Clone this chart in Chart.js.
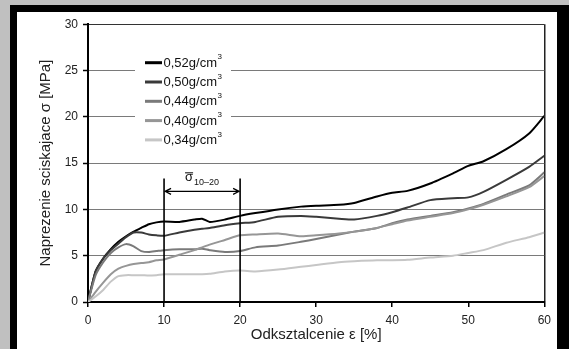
<!DOCTYPE html>
<html>
<head>
<meta charset="utf-8">
<script src="https://cdn.jsdelivr.net/npm/chart.js@4/dist/chart.umd.min.js"></script>
<style>
  body { margin: 0; background: #c0c0c0; width: 569px; height: 349px; overflow: hidden; position: relative; }
  #frame { position: absolute; left: 10px; top: 5px; width: 559px; height: 344px; background: #000; }
  #paper { position: absolute; left: 17px; top: 12px; width: 540px; height: 337px; background: #fff; }
  canvas { display: block; }
</style>
</head>
<body>
<div id="frame"></div>
<div id="paper"><canvas id="chart" width="540" height="337"></canvas></div>
<script>
// strain [%] shared by all curves
const strain = [0, 1, 2, 3, 4, 5, 6, 7, 8, 9, 10, 12, 14, 15, 16, 18, 20, 22, 25, 28, 30, 33, 35, 38, 40, 42, 45, 48, 50, 52, 55, 58, 60];

// stress [MPa] for each density
const s052 = [0, 3.3, 4.7, 5.7, 6.5, 7.1, 7.6, 8.0, 8.4, 8.6, 8.7, 8.65, 8.9, 9.0, 8.65, 8.9, 9.3, 9.6, 10.0, 10.3, 10.4, 10.5, 10.7, 11.4, 11.8, 12.0, 12.8, 13.9, 14.7, 15.2, 16.5, 18.2, 20.1];
const s050 = [0, 3.3, 4.7, 5.6, 6.3, 7.0, 7.5, 7.5, 7.3, 7.2, 7.15, 7.5, 7.8, 7.9, 8.0, 8.3, 8.5, 8.65, 9.2, 9.3, 9.2, 9.0, 8.9, 9.3, 9.7, 10.2, 11.0, 11.2, 11.3, 11.9, 13.2, 14.6, 15.8];
const s044 = [0, 2.9, 4.3, 5.3, 5.9, 6.25, 6.0, 5.5, 5.4, 5.5, 5.6, 5.7, 5.7, 5.75, 5.6, 5.4, 5.5, 5.9, 6.1, 6.5, 6.8, 7.3, 7.6, 8.0, 8.5, 8.9, 9.3, 9.7, 10.1, 10.6, 11.6, 12.6, 14.0];
const s040 = [0, 1.1, 2.1, 3.0, 3.6, 3.9, 4.1, 4.2, 4.3, 4.5, 4.6, 5.1, 5.6, 5.9, 6.2, 6.7, 7.2, 7.3, 7.4, 7.1, 7.2, 7.4, 7.6, 8.0, 8.4, 8.8, 9.2, 9.6, 10.0, 10.5, 11.4, 12.4, 13.6];
const s034 = [0, 0.6, 1.3, 2.2, 2.8, 2.9, 2.9, 2.9, 2.85, 2.9, 3.0, 3.0, 3.0, 3.0, 3.05, 3.3, 3.4, 3.3, 3.5, 3.8, 4.0, 4.3, 4.4, 4.5, 4.5, 4.55, 4.8, 5.0, 5.3, 5.6, 6.4, 7.0, 7.5];

const densities = ['0,52', '0,50', '0,44', '0,40', '0,34'];
const series = [s052, s050, s044, s040, s034];
const colours = ['#000000', '#3a3a3a', '#7a7a7a', '#969696', '#c6c6c6'];

// averaging range marker
const rangeFrom = 10;
const rangeTo = 20;
const rangeTop = 13.35;
const rangeArrow = 11.95;

const FONT = "'Liberation Sans', Arial, sans-serif";

let datasets = series.map((vals, i) => ({
    label: densities[i] + 'g/cm3',
    data: strain.map((x, k) => ({x: x, y: vals[k]})),
    borderColor: colours[i],
    borderWidth: 2,
    pointRadius: 0,
    tension: 0.2,
    fill: false
}));
// draw the lighter curves first so the dark ones stay on top
datasets.reverse();

let legendBox = {
    id: 'legendBox',
    afterDraw(chart) {
        const ctx = chart.ctx;
        const a = chart.chartArea;
        const left = a.left + 47, top = a.top + 26;
        ctx.save();
        ctx.fillStyle = '#fff';
        ctx.fillRect(left, top, 96, 98);
        for (let i = 0; i < densities.length; i++) {
            const y = a.top + 38.5 + i * 19.3;
            ctx.strokeStyle = colours[i];
            ctx.lineWidth = 3;
            ctx.beginPath();
            ctx.moveTo(a.left + 57, y);
            ctx.lineTo(a.left + 74, y);
            ctx.stroke();
            ctx.fillStyle = '#111';
            ctx.font = '13px ' + FONT;
            ctx.textBaseline = 'middle';
            const txt = densities[i] + 'g/cm';
            ctx.fillText(txt, a.left + 75.5, y + 0.5);
            const w = ctx.measureText(txt).width;
            ctx.font = '8px ' + FONT;
            ctx.fillText('3', a.left + 76 + w, y - 5.5);
        }
        ctx.restore();
    }
};

let rangeMarker = {
    id: 'rangeMarker',
    afterDatasetsDraw(chart) {
        const ctx = chart.ctx;
        const xs = chart.scales.x, ys = chart.scales.y;
        const x1 = xs.getPixelForValue(rangeFrom);
        const x2 = xs.getPixelForValue(rangeTo);
        const yTop = ys.getPixelForValue(rangeTop);
        const yBot = ys.getPixelForValue(0);
        const yA = ys.getPixelForValue(rangeArrow);
        ctx.save();
        ctx.strokeStyle = '#000';
        ctx.lineWidth = 1.6;
        ctx.beginPath();
        ctx.moveTo(x1, yTop); ctx.lineTo(x1, yBot);
        ctx.moveTo(x2, yTop); ctx.lineTo(x2, yBot);
        ctx.stroke();
        // double arrow
        ctx.lineWidth = 1.2;
        ctx.beginPath();
        ctx.moveTo(x1 + 1, yA); ctx.lineTo(x2 - 1, yA);
        ctx.moveTo(x1 + 7, yA - 3); ctx.lineTo(x1 + 1, yA); ctx.lineTo(x1 + 7, yA + 3);
        ctx.moveTo(x2 - 7, yA - 3); ctx.lineTo(x2 - 1, yA); ctx.lineTo(x2 - 7, yA + 3);
        ctx.stroke();
        // sigma with bar and subscript
        const cx = (x1 + x2) / 2;
        ctx.fillStyle = '#111';
        ctx.textBaseline = 'alphabetic';
        ctx.font = '13px ' + FONT;
        const sw = ctx.measureText('σ').width;
        ctx.font = '9px ' + FONT;
        const sub = '10\u201320';
        const bw = ctx.measureText(sub).width;
        const start = cx - (sw + bw + 1) / 2;
        ctx.font = '13px ' + FONT;
        ctx.fillText('σ', start, yA - 10);
        ctx.lineWidth = 1;
        ctx.beginPath();
        ctx.moveTo(start, yA - 18.5); ctx.lineTo(start + sw, yA - 18.5);
        ctx.stroke();
        ctx.font = '9px ' + FONT;
        ctx.fillText(sub, start + sw + 1, yA - 6);
        ctx.restore();
    }
};

new Chart(document.getElementById('chart').getContext('2d'), {
    type: 'line',
    data: { datasets: datasets },
    options: {
        responsive: false,
        animation: false,
        layout: { padding: { top: 12, right: 7, left: 0, bottom: 0 } },
        plugins: { legend: { display: false }, tooltip: { enabled: false } },
        scales: {
            x: {
                type: 'linear',
                min: 0,
                max: 60,
                afterFit: s => { s.height = 47; },
                ticks: { stepSize: 10, color: '#222', padding: 6, font: { family: FONT, size: 12 }, maxRotation: 0 },
                grid: {
                    color: c => c.tick && c.tick.value === 60 ? '#222' : 'rgba(0,0,0,0)',
                    lineWidth: 1.5,
                    tickColor: '#000',
                    tickWidth: 1.5,
                    tickLength: 5
                },
                border: { display: true, color: '#000', width: 2 },
                title: {
                    display: true,
                    text: 'Odksztalcenie ε [%]',
                    color: '#222',
                    font: { family: FONT, size: 15 },
                    padding: { top: 0, bottom: 5 }
                }
            },
            y: {
                min: 0,
                max: 30,
                afterFit: s => { s.width = 71; },
                ticks: { stepSize: 5, color: '#222', padding: 5, font: { family: FONT, size: 12 } },
                grid: {
                    color: c => {
                        if (!c.tick) return '#7a7a7a';
                        if (c.tick.value === 0) return 'rgba(0,0,0,0)';
                        if (c.tick.value === 30) return '#333';
                        return '#7a7a7a';
                    },
                    lineWidth: 1,
                    tickColor: '#000',
                    tickWidth: 1.5,
                    tickLength: 5
                },
                border: { display: true, color: '#000', width: 2 },
                title: {
                    display: true,
                    text: 'Naprezenie sciskajace σ [MPa]',
                    color: '#222',
                    font: { family: FONT, size: 15 },
                    padding: { top: 20, bottom: 0 }
                }
            }
        }
    },
    plugins: [legendBox, rangeMarker]
});
</script>
</body>
</html>
